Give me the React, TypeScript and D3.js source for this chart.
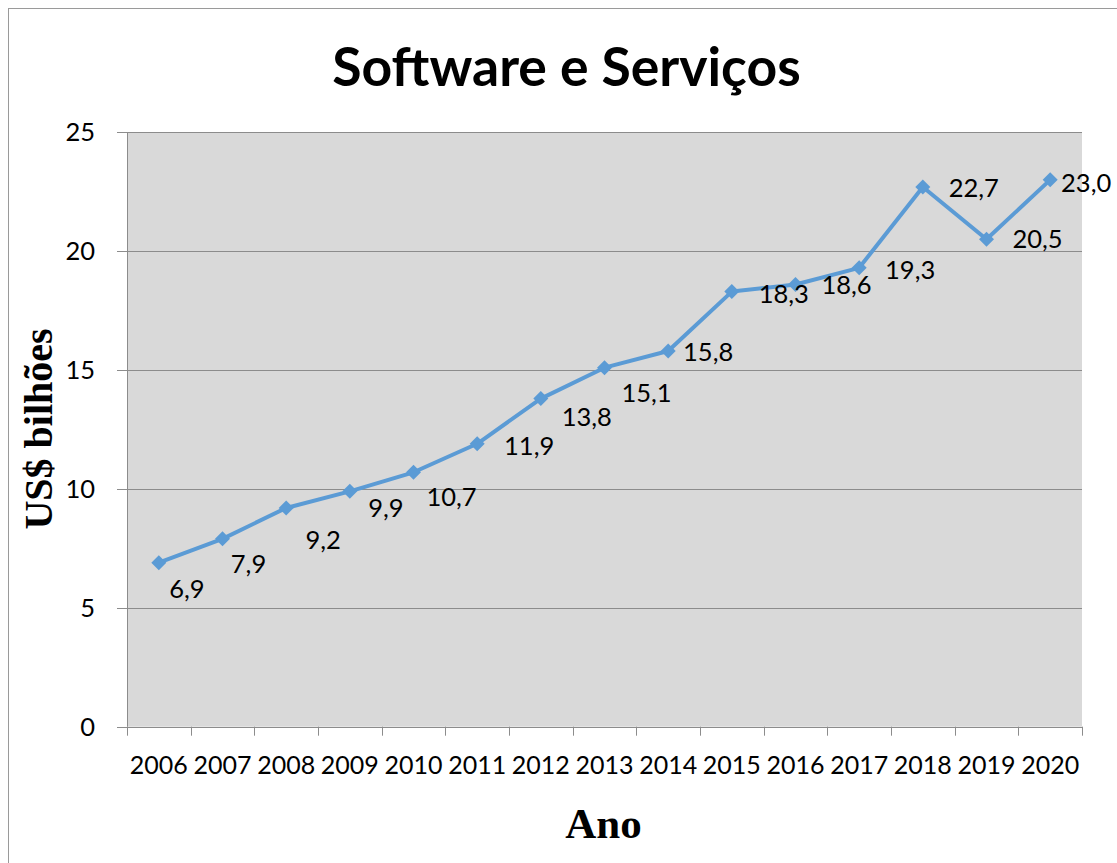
import React from "react";
import * as d3 from "d3";

const years = ["2006","2007","2008","2009","2010","2011","2012","2013","2014","2015","2016","2017","2018","2019","2020"];
const values = [6.9, 7.9, 9.2, 9.9, 10.7, 11.9, 13.8, 15.1, 15.8, 18.3, 18.6, 19.3, 22.7, 20.5, 23.0];
const yTicks = [0, 5, 10, 15, 20, 25];
const title = "Software e Serviços";
const xTitle = "Ano";
const yTitle = "US$ bilhões";

// label placement (layout, offsets from the point in px)
const labelDx = [28, 26, 37, 36, 38, 52, 46, 42, 40, 52, 51, 51, 51, 51, 36];
const labelDy = [26, 25, 32, 17, 25, 2, 18, 25, 1, 2, 1, 2, 1, 0, 3];

const W = 1117, H = 863;
const L = 127, R = 1082, T = 132.3, B = 726.7;

export default function App() {
  const x = d3.scaleBand<string>().domain(years).range([L, R]).padding(0);
  const y = d3.scaleLinear().domain([0, 25]).range([B, T]);
  const cx = (i: number) => (x(years[i]) as number) + x.bandwidth() / 2;
  const line = d3.line<number>().x((_, i) => cx(i)).y((d) => y(d));
  const fmt = (v: number) => v.toFixed(1).replace(".", ",");
  const sans = "Lato, 'Open Sans', sans-serif";
  const serif = "'Liberation Serif', 'DejaVu Serif', serif";
  const grid = "#8c8c8c";
  const boundaries = [...years.map((yr) => x(yr) as number), R];

  return (
    <svg width={W} height={H} style={{ position: "fixed", left: 0, top: 0, background: "#fff" }}>
      <rect x={8.5} y={8.5} width={1300} height={1000} fill="#fff" stroke="#9a9a9a" strokeWidth={1} />
      <text x={566.5} y={86} textAnchor="middle" fontFamily={sans} fontWeight={700} fontSize={53.5} fill="#000">
        {title}
      </text>
      <rect x={L} y={T} width={R - L} height={B - T} fill="#d9d9d9" />
      {yTicks.map((t) => (
        <g key={t}>
          <line x1={117} x2={R} y1={Math.round(y(t)) + 0.5} y2={Math.round(y(t)) + 0.5} stroke={grid} strokeWidth={1} />
          <text x={95} y={y(t)} dy="0.35em" textAnchor="end" fontFamily={sans} fontSize={25.5} fill="#000">
            {t}
          </text>
        </g>
      ))}
      <line x1={L + 0.5} x2={L + 0.5} y1={T} y2={B} stroke={grid} strokeWidth={1} />
      {boundaries.map((bx, i) => (
        <line key={i} x1={Math.round(bx) + 0.5} x2={Math.round(bx) + 0.5} y1={B} y2={B + 9} stroke={grid} strokeWidth={1} />
      ))}
      {years.map((yr, i) => (
        <text key={yr} x={cx(i)} y={765} dy="0.35em" textAnchor="middle" fontFamily={sans} fontSize={25} fill="#000">
          {yr}
        </text>
      ))}
      <path d={line(values) || ""} fill="none" stroke="#5b9bd5" strokeWidth={4} strokeLinejoin="round" />
      {values.map((v, i) => {
        const px = cx(i), py = y(v), s = 7.5;
        return (
          <path key={i} d={`M${px},${py - s}L${px + s},${py}L${px},${py + s}L${px - s},${py}Z`} fill="#5b9bd5" />
        );
      })}
      {values.map((v, i) => (
        <text key={i} x={cx(i) + labelDx[i]} y={y(v) + labelDy[i]} dy="0.35em" textAnchor="middle" fontFamily={sans} fontSize={25.5} fill="#000">
          {fmt(v)}
        </text>
      ))}
      <text x={603.5} y={838} textAnchor="middle" fontFamily={serif} fontWeight={700} fontSize={43} fill="#000">
        {xTitle}
      </text>
      <text transform={`translate(52,429) rotate(-90)`} textAnchor="middle" fontFamily={serif} fontWeight={700} fontSize={40} fill="#000">
        {yTitle}
      </text>
    </svg>
  );
}
